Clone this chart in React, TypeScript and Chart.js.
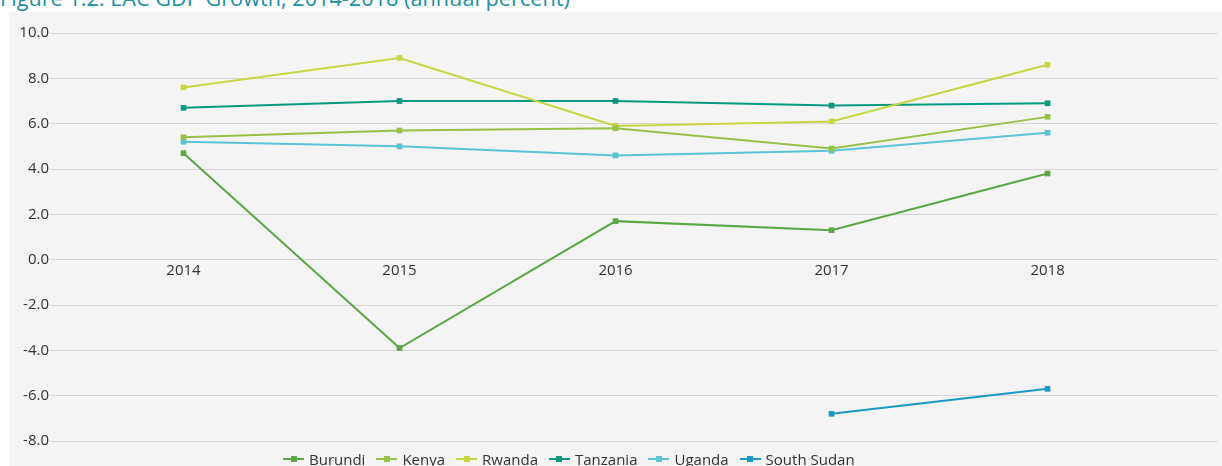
import React, { useEffect, useRef } from "react";
import { Chart, registerables } from "chart.js";

Chart.register(...registerables);

const years = [2014, 2015, 2016, 2017, 2018];
const burundi = [4.7, -3.9, 1.7, 1.3, 3.8];
const kenya = [5.4, 5.7, 5.8, 4.9, 6.3];
const rwanda = [7.6, 8.9, 5.9, 6.1, 8.6];
const tanzania = [6.7, 7.0, 7.0, 6.8, 6.9];
const uganda = [5.2, 5.0, 4.6, 4.8, 5.6];
const southSudan = [null, null, null, -6.8, -5.7];

const seriesNames = ["Burundi", "Kenya", "Rwanda", "Tanzania", "Uganda", "South Sudan"];
const seriesValues = [burundi, kenya, rwanda, tanzania, uganda, southSudan];
const seriesColors = ["#5aa845", "#98c247", "#c8d641", "#079a7f", "#5cc3d5", "#1a9bc6"];

const yTicks = [-8, -6, -4, -2, 0, 2, 4, 6, 8, 10];
const titleText = "Figure 1.2: EAC GDP Growth, 2014-2018 (annual percent)";

const FONT = "'Open Sans', 'Noto Sans', sans-serif";

export default function App() {
  const ref = useRef<HTMLCanvasElement>(null);

  useEffect(() => {
    if (!ref.current) return;
    const chart = new Chart(ref.current, {
      type: "line",
      data: {
        datasets: seriesNames.map((name, i) => ({
          label: name,
          data: years.map((yr, j) => ({ x: yr, y: seriesValues[i][j] as any })),
          borderColor: seriesColors[i],
          backgroundColor: seriesColors[i],
          borderWidth: 2,
          pointStyle: "rect",
          pointRadius: 4,
          pointBorderWidth: 0,
          spanGaps: false,
          tension: 0,
        })),
      },
      options: {
        animation: false,
        responsive: false,
        maintainAspectRatio: false,
        layout: { padding: { top: 21, left: 0, right: 0, bottom: 25 } },
        plugins: {
          tooltip: { enabled: false },
          legend: { display: false },
        },
        scales: {
          x: {
            type: "linear",
            position: { y: 0 } as any,
            min: 2013.382,
            max: 2018.789,
            grid: { display: false, drawTicks: false },
            border: { display: false },
            afterBuildTicks: (scale: any) => {
              scale.ticks = years.map((v) => ({ value: v }));
            },
            afterFit: (scale: any) => {
              scale.paddingLeft = 0;
              scale.paddingRight = 0;
            },
            ticks: {
              padding: 2,
              color: "#333333",
              font: { family: FONT, size: 15 },
              callback: (v: any) => String(v),
            },
          },
          y: {
            min: -8,
            max: 10,
            afterBuildTicks: (scale: any) => {
              scale.ticks = yTicks.map((v) => ({ value: v }));
            },
            afterFit: (scale: any) => {
              scale.width = 41;
            },
            grid: { color: "#d6d4d6", lineWidth: 1, drawTicks: false },
            border: { display: false },
            ticks: {
              padding: 1,
              color: "#333333",
              font: { family: FONT, size: 15 },
              callback: (v: any) => Number(v).toFixed(1),
            },
          },
        },
      },
    });
    return () => chart.destroy();
  }, []);

  return (
    <div style={{ position: "fixed", left: 0, top: 0, width: 1222, height: 466, overflow: "hidden", background: "#ffffff" }}>
      <div
        style={{
          position: "absolute",
          left: 0,
          top: -17,
          whiteSpace: "nowrap",
          fontFamily: FONT,
          fontSize: 21.7,
          lineHeight: "30px",
          color: "#1d8fa6",
        }}
      >
        {titleText}
      </div>
      <div style={{ position: "absolute", left: 9, top: 12, width: 1213, height: 470, background: "#f5f4f5" }}>
        <canvas ref={ref} width={1213} height={454} style={{ display: "block", width: 1213, height: 454 }} />
      </div>
      <div
        style={{
          position: "absolute",
          left: 283,
          top: 449,
          height: 20,
          display: "flex",
          alignItems: "center",
          whiteSpace: "nowrap",
          fontFamily: FONT,
          fontSize: 15,
          lineHeight: "20px",
          color: "#333333",
        }}
      >
        {seriesNames.map((name, i) => (
          <div key={name} style={{ display: "flex", alignItems: "center", marginRight: 11 }}>
            <div style={{ position: "relative", width: 21, height: 7, marginRight: 5 }}>
              <div style={{ position: "absolute", left: 0, top: 2.5, width: 21, height: 2, background: seriesColors[i] }} />
              <div style={{ position: "absolute", left: 7.5, top: 0.5, width: 6, height: 6, background: seriesColors[i] }} />
            </div>
            <span>{name}</span>
          </div>
        ))}
      </div>
    </div>
  );
}
